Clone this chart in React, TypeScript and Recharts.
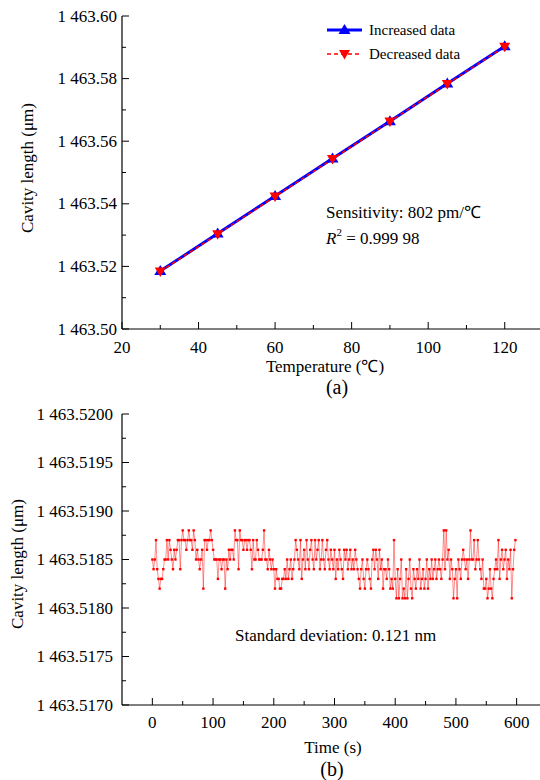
import React from 'react';
import { LineChart, Line, XAxis, YAxis, Legend } from 'recharts';

const FONT = "'Liberation Serif', 'Times New Roman', serif";

// ---------- Panel (a) data ----------
const temperatures = [30, 45, 60, 75, 90, 105, 120];
const increasedData = [1463.5185, 1463.5305, 1463.5425, 1463.5545, 1463.5664, 1463.5784, 1463.5903];
const decreasedData = [1463.5184, 1463.5303, 1463.5423, 1463.5543, 1463.5663, 1463.5783, 1463.5902];
const tempTicks = [20, 30, 40, 50, 60, 70, 80, 90, 100, 110, 120];
const lengthTicksA = [1463.5, 1463.51, 1463.52, 1463.53, 1463.54, 1463.55, 1463.56, 1463.57, 1463.58, 1463.59, 1463.6];

// ---------- Panel (b) data ----------
const sampleIntervalS = 2;
const cavityLengthB = [
  1463.5185, 1463.5184, 1463.5185, 1463.5187, 1463.5184, 1463.5183, 1463.5182, 1463.5183, 1463.5183, 1463.5184,
  1463.5185, 1463.5185, 1463.5187, 1463.5185, 1463.5187, 1463.5186, 1463.5185, 1463.5184, 1463.5186, 1463.5185,
  1463.5186, 1463.5187, 1463.5187, 1463.5184, 1463.5187, 1463.5188, 1463.5187, 1463.5187, 1463.5186, 1463.5187,
  1463.5188, 1463.5187, 1463.5187, 1463.5186, 1463.5188, 1463.5187, 1463.5185, 1463.5186, 1463.5185, 1463.5184,
  1463.5185, 1463.5186, 1463.5182, 1463.5187, 1463.5187, 1463.5186, 1463.5187, 1463.5187, 1463.5188, 1463.5187,
  1463.5186, 1463.5185, 1463.5185, 1463.5185, 1463.5183, 1463.5185, 1463.5185, 1463.5184, 1463.5185, 1463.5185,
  1463.5182, 1463.5185, 1463.5184, 1463.5186, 1463.5185, 1463.5186, 1463.5186, 1463.5185, 1463.5188, 1463.5187,
  1463.5187, 1463.5184, 1463.5188, 1463.5187, 1463.5187, 1463.5186, 1463.5187, 1463.5187, 1463.5186, 1463.5187,
  1463.5187, 1463.5186, 1463.5184, 1463.5187, 1463.5185, 1463.5185, 1463.5187, 1463.5186, 1463.5185, 1463.5185,
  1463.5185, 1463.5186, 1463.5188, 1463.5185, 1463.5185, 1463.5184, 1463.5186, 1463.5185, 1463.5184, 1463.5185,
  1463.5184, 1463.5182, 1463.5184, 1463.5183, 1463.5183, 1463.5182, 1463.5182, 1463.5183, 1463.5183, 1463.5184,
  1463.5183, 1463.5185, 1463.5183, 1463.5184, 1463.5185, 1463.5183, 1463.5184, 1463.5185, 1463.5187, 1463.5186,
  1463.5185, 1463.5184, 1463.5187, 1463.5183, 1463.5185, 1463.5186, 1463.5184, 1463.5187, 1463.5185, 1463.5184,
  1463.5186, 1463.5187, 1463.5185, 1463.5184, 1463.5187, 1463.5185, 1463.5186, 1463.5187, 1463.5184, 1463.5185,
  1463.5187, 1463.5185, 1463.5184, 1463.5186, 1463.5187, 1463.5185, 1463.5184, 1463.5186, 1463.5185, 1463.5184,
  1463.5186, 1463.5183, 1463.5185, 1463.5184, 1463.5186, 1463.5185, 1463.5184, 1463.5183, 1463.5186, 1463.5185,
  1463.5186, 1463.5184, 1463.5185, 1463.5186, 1463.5184, 1463.5185, 1463.5184, 1463.5186, 1463.5185, 1463.5184,
  1463.5183, 1463.5182, 1463.5184, 1463.5185, 1463.5183, 1463.5182, 1463.5184, 1463.5185, 1463.5184, 1463.5183,
  1463.5182, 1463.5185, 1463.5186, 1463.5184, 1463.5186, 1463.5185, 1463.5183, 1463.5186, 1463.5184, 1463.5185,
  1463.5182, 1463.5184, 1463.5184, 1463.5183, 1463.5185, 1463.5184, 1463.5182, 1463.5183, 1463.5182, 1463.5187,
  1463.5183, 1463.5181, 1463.5184, 1463.5181, 1463.5183, 1463.5185, 1463.5181, 1463.5182, 1463.5181, 1463.5184,
  1463.5181, 1463.5183, 1463.5185, 1463.5182, 1463.5181, 1463.5184, 1463.5183, 1463.5182, 1463.5184, 1463.5183,
  1463.5185, 1463.5182, 1463.5183, 1463.5184, 1463.5182, 1463.5183, 1463.5185, 1463.5182, 1463.5184, 1463.5183,
  1463.5185, 1463.5183, 1463.5184, 1463.5185, 1463.5183, 1463.5184, 1463.5185, 1463.5184, 1463.5183, 1463.5185,
  1463.5188, 1463.5184, 1463.5188, 1463.5185, 1463.5186, 1463.5183, 1463.5185, 1463.5184, 1463.5181, 1463.5183,
  1463.5184, 1463.5181, 1463.5185, 1463.5184, 1463.5183, 1463.5185, 1463.5186, 1463.5185, 1463.5184, 1463.5185,
  1463.5183, 1463.5185, 1463.5188, 1463.5185, 1463.5185, 1463.5187, 1463.5184, 1463.5185, 1463.5187, 1463.5185,
  1463.5184, 1463.5183, 1463.5185, 1463.5182, 1463.5182, 1463.5183, 1463.5181, 1463.5182, 1463.5184, 1463.5182,
  1463.5181, 1463.5183, 1463.5184, 1463.5185, 1463.5184, 1463.5187, 1463.5183, 1463.5185, 1463.5186, 1463.5184,
  1463.5185, 1463.5186, 1463.5183, 1463.5185, 1463.5184, 1463.5186, 1463.5181, 1463.5184, 1463.5186, 1463.5187,
];
const timeTicks = [0, 50, 100, 150, 200, 250, 300, 350, 400, 450, 500, 550, 600];
const lengthTicksB = [
  1463.517, 1463.51725, 1463.5175, 1463.51775, 1463.518, 1463.51825, 1463.5185,
  1463.51875, 1463.519, 1463.51925, 1463.5195, 1463.51975, 1463.52,
];

const dataA = temperatures.map((t, i) => ({ t, inc: increasedData[i], dec: decreasedData[i] }));
const dataB = cavityLengthB.map((v, i) => ({ t: i * sampleIntervalS, v }));

const spaced = (s: string) => s.charAt(0) + ' ' + s.slice(1);

const makeXTick = (labelDy: number) => (props: any) => {
  const { x, y, payload, index } = props;
  const major = index % 2 === 0;
  return (
    <g>
      <line x1={x} x2={x} y1={y} y2={y - (major ? 7 : 4)} stroke="#000" strokeWidth={1} />
      {major && (
        <text x={x} y={y + labelDy} textAnchor="middle" dominantBaseline="central"
          fontFamily={FONT} fontSize={17} fill="#000">{payload.value}</text>
      )}
    </g>
  );
};

const makeYTick = (digits: number, gap: number) => (props: any) => {
  const { x, y, payload, index } = props;
  const major = index % 2 === 0;
  return (
    <g>
      <line x1={x} x2={x + (major ? 7 : 4)} y1={y} y2={y} stroke="#000" strokeWidth={1} />
      {major && (
        <text x={x - gap} y={y} textAnchor="end" dominantBaseline="central"
          fontFamily={FONT} fontSize={17} fill="#000">{spaced(Number(payload.value).toFixed(digits))}</text>
      )}
    </g>
  );
};

const TriUp = (p: any) => {
  const { cx, cy } = p;
  if (cx == null || cy == null) return <g />;
  return <polygon points={`${cx},${cy - 6} ${cx - 6},${cy + 4} ${cx + 6},${cy + 4}`} fill="#0000FF" />;
};
const TriDown = (p: any) => {
  const { cx, cy } = p;
  if (cx == null || cy == null) return <g />;
  return <polygon points={`${cx},${cy + 5.5} ${cx - 5.5},${cy - 4} ${cx + 5.5},${cy - 4}`} fill="#FF0000" />;
};
const SmallDot = (p: any) => {
  const { cx, cy } = p;
  if (cx == null || cy == null) return <g />;
  return <rect x={cx - 1.2} y={cy - 1.2} width={2.4} height={2.4} fill="#FF0000" />;
};

const legendContent = () => (
  <div style={{ fontFamily: FONT, fontSize: 15, color: '#000', lineHeight: '24px' }}>
    <div style={{ display: 'flex', alignItems: 'center', height: 24 }}>
      <svg width={42} height={20}>
        <line x1={0} y1={10} x2={35} y2={10} stroke="#0000FF" strokeWidth={3} />
        <polygon points="17.5,4 11.5,14 23.5,14" fill="#0000FF" />
      </svg>
      <span>Increased data</span>
    </div>
    <div style={{ display: 'flex', alignItems: 'center', height: 24 }}>
      <svg width={42} height={20}>
        <line x1={0} y1={10} x2={35} y2={10} stroke="#FF0000" strokeWidth={1.5} strokeDasharray="4 3" />
        <polygon points="17.5,15.5 12,6 23,6" fill="#FF0000" />
      </svg>
      <span>Decreased data</span>
    </div>
  </div>
);

export default function App() {
  return (
    <div style={{ position: 'absolute', left: 0, top: 0, width: 540, height: 780, overflow: 'hidden', background: '#fff' }}>
      <div style={{ position: 'absolute', left: 0, top: 0 }}>
        <LineChart width={560} height={400} data={dataA} margin={{ top: 16, right: 17, left: 0, bottom: 41 }}>
          <XAxis dataKey="t" type="number" domain={[20, 130]} ticks={tempTicks} interval={0}
            tickSize={0} tickMargin={0} tickLine={false} axisLine={{ stroke: '#000', strokeWidth: 1.2 }}
            tick={makeXTick(18)} height={30} />
          <XAxis xAxisId="top" orientation="top" dataKey="t" type="number" domain={[20, 130]}
            tick={false} tickLine={false} height={0} axisLine={{ stroke: '#000', strokeWidth: 1.2 }} />
          <YAxis type="number" domain={[1463.5, 1463.6]} ticks={lengthTicksA} interval={0}
            tickSize={0} tickMargin={0} tickLine={false} axisLine={{ stroke: '#000', strokeWidth: 1.2 }}
            tick={makeYTick(2, 5)} width={122} />
          <Legend layout="horizontal" verticalAlign="middle" align="center"
            wrapperStyle={{ left: 327, top: 18, width: 170, height: 48 }} content={legendContent} />
          <Line dataKey="inc" name="Increased data" stroke="#0000FF" strokeWidth={3}
            dot={(p: any) => <TriUp key={`u${p.index}`} {...p} />} isAnimationActive={false} />
          <Line dataKey="dec" name="Decreased data" stroke="#FF0000" strokeWidth={1.5} strokeDasharray="4 3"
            dot={(p: any) => <TriDown key={`d${p.index}`} {...p} />} isAnimationActive={false} />
        </LineChart>
      </div>
      <div style={{ position: 'absolute', left: 0, top: 390 }}>
        <LineChart width={560} height={390} data={dataB} margin={{ top: 24, right: 13, left: 0, bottom: 45 }}>
          <XAxis dataKey="t" type="number" domain={[-50, 650]} ticks={timeTicks} interval={0}
            tickSize={0} tickMargin={0} tickLine={false} axisLine={{ stroke: '#000', strokeWidth: 1.2 }}
            tick={makeXTick(17)} height={30} />
          <XAxis xAxisId="top" orientation="top" dataKey="t" type="number" domain={[-50, 650]}
            tick={false} tickLine={false} height={0} axisLine={{ stroke: '#000', strokeWidth: 1.2 }} />
          <YAxis type="number" domain={[1463.517, 1463.52]} ticks={lengthTicksB} interval={0}
            tickSize={0} tickMargin={0} tickLine={false} axisLine={{ stroke: '#000', strokeWidth: 1.2 }}
            tick={makeYTick(4, 9)} width={122} allowDataOverflow />
          <Line dataKey="v" stroke="#FF0000" strokeWidth={0.6} strokeOpacity={0.75}
            dot={(p: any) => <SmallDot key={`s${p.index}`} {...p} />} isAnimationActive={false} />
        </LineChart>
      </div>
      <svg width={540} height={780} style={{ position: 'absolute', left: 0, top: 0, pointerEvents: 'none' }}
        fontFamily={FONT} fill="#000">
        <text x={27} y={168} fontSize={17} textAnchor="middle" dominantBaseline="central"
          transform="rotate(-90 27 168)">Cavity length (μm)</text>
        <text x={325} y={366} fontSize={17} textAnchor="middle" dominantBaseline="central">Temperature (℃)</text>
        <text x={337} y={387} fontSize={20} textAnchor="middle" dominantBaseline="central">(a)</text>
        <text x={326} y={212} fontSize={17} dominantBaseline="central">Sensitivity: 802 pm/℃</text>
        <text x={326} y={238} fontSize={17} dominantBaseline="central">
          <tspan fontStyle="italic">R</tspan><tspan fontSize={11} dy={-6}>2</tspan><tspan dy={6}> = 0.999 98</tspan>
        </text>
        <text x={17} y={564} fontSize={17} textAnchor="middle" dominantBaseline="central"
          transform="rotate(-90 17 564)">Cavity length (μm)</text>
        <text x={333} y={747} fontSize={17} textAnchor="middle" dominantBaseline="central">Time (s)</text>
        <text x={332} y={769} fontSize={20} textAnchor="middle" dominantBaseline="central">(b)</text>
        <text x={235} y={635} fontSize={17} dominantBaseline="central">Standard deviation: 0.121 nm</text>
      </svg>
    </div>
  );
}
